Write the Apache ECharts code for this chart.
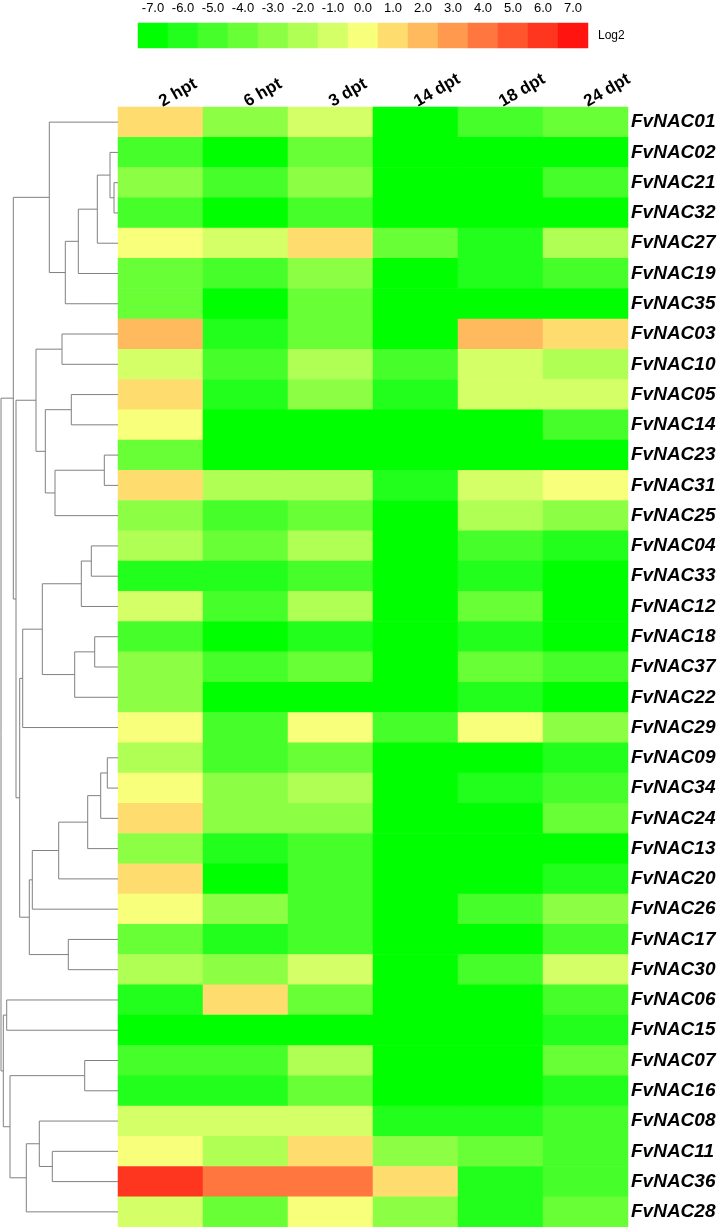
<!DOCTYPE html>
<html><head><meta charset="utf-8">
<script src="https://cdn.jsdelivr.net/npm/echarts@6/dist/echarts.min.js"></script>
<style>html,body{margin:0;padding:0;background:#fff}#c{width:720px;height:1227px}</style>
</head><body><div id="c"></div>
<script>
const genes = ['FvNAC01','FvNAC02','FvNAC21','FvNAC32','FvNAC27','FvNAC19','FvNAC35','FvNAC03','FvNAC10','FvNAC05',
  'FvNAC14','FvNAC23','FvNAC31','FvNAC25','FvNAC04','FvNAC33','FvNAC12','FvNAC18','FvNAC37','FvNAC22',
  'FvNAC29','FvNAC09','FvNAC34','FvNAC24','FvNAC13','FvNAC20','FvNAC26','FvNAC17','FvNAC30','FvNAC06',
  'FvNAC15','FvNAC07','FvNAC16','FvNAC08','FvNAC11','FvNAC36','FvNAC28'];
const timepoints = ['2 hpt','6 hpt','3 dpt','14 dpt','18 dpt','24 dpt'];
// log2 values per time point, in gene order above
const v2hpt  = [1,-5,-3,-5,0,-4,-4,2,-1,1, 0,-4,1,-3,-2,-6,-1,-5,-3,-3, 0,-2,0,1,-3,1,0,-4,-2,-6, -7,-5,-6,-1,0,6,-1];
const v6hpt  = [-3,-7,-5,-7,-1,-5,-7,-6,-5,-6, -7,-7,-2,-5,-4,-6,-5,-7,-5,-7, -5,-5,-3,-3,-6,-7,-3,-6,-3,1, -7,-5,-6,-1,-2,4,-4];
const v3dpt  = [-1,-4,-3,-5,1,-3,-4,-4,-2,-3, -7,-7,-2,-4,-2,-5,-2,-6,-4,-7, 0,-4,-2,-3,-5,-5,-5,-5,-1,-4, -7,-2,-4,-1,1,4,0];
const v14dpt = [-7,-7,-7,-7,-4,-7,-7,-7,-5,-6, -7,-7,-6,-7,-7,-7,-7,-7,-7,-7, -5,-7,-7,-7,-7,-7,-7,-7,-7,-7, -7,-7,-7,-6,-3,1,-3];
const v18dpt = [-5,-7,-7,-7,-6,-6,-7,2,-1,-1, -7,-7,-1,-2,-5,-6,-4,-6,-4,-6, 0,-7,-6,-7,-7,-7,-5,-7,-5,-7, -7,-7,-7,-6,-4,-6,-6];
const v24dpt = [-4,-7,-5,-7,-2,-5,-7,1,-2,-1, -5,-7,0,-3,-6,-7,-7,-7,-5,-7, -3,-6,-5,-4,-7,-6,-3,-5,-1,-5, -6,-4,-6,-5,-5,-5,-4];
const columns = [v2hpt, v6hpt, v3dpt, v14dpt, v18dpt, v24dpt];

const legendTicks  = ['-7.0','-6.0','-5.0','-4.0','-3.0','-2.0','-1.0','0.0','1.0','2.0','3.0','4.0','5.0','6.0','7.0'];
const legendLevels = [-7,-6,-5,-4,-3,-2,-1,0,1,2,3,4,5,6,7];
const levelColors  = ['#00FF00','#22FF1C','#46FF2A','#69FF37','#8CFF45','#B0FF55','#D4FF66','#F8FF7A',
  '#FFDC6E','#FFBA5E','#FF994E','#FF773E','#FF562E','#FF361F','#FF140F'];

// dendrogram: [mergeHeight, left, right]; leaves are gene names
const dendrogram =
[117,
  [104.7,
    [68.7, 'FvNAC01', [52.7, [39.7, [20.7, [8, 'FvNAC02', [4, 'FvNAC21', 'FvNAC32']], 'FvNAC27'], 'FvNAC19'], 'FvNAC35']],
    [102,
      [82, [56, 'FvNAC03', 'FvNAC10'], [72.7, [46.7, 'FvNAC05', 'FvNAC14'], [63, [13.7, 'FvNAC23', 'FvNAC31'], 'FvNAC25']]],
      [98.3,
        [95.3, [75.7, [36.7, [26.7, 'FvNAC04', 'FvNAC33'], 'FvNAC12'], [43.3, [23.3, 'FvNAC18', 'FvNAC37'], 'FvNAC22']], 'FvNAC29'],
        [88.7, [85.7, [59.3, [30.3, [17.3, [10.7, 'FvNAC09', 'FvNAC34'], 'FvNAC24'], 'FvNAC13'], 'FvNAC20'], 'FvNAC26'], [49.7, 'FvNAC17', 'FvNAC30']]
      ]
    ]
  ],
  [114.7,
    [111.3, 'FvNAC06', 'FvNAC15'],
    [108, [33.3, 'FvNAC07', 'FvNAC16'], [91.7, [78.7, 'FvNAC08', [65.7, 'FvNAC11', 'FvNAC36']], 'FvNAC28']]
  ]
];

// build data for library
const heatData = [];
columns.forEach((col, ci) => col.forEach((v, ri) => heatData.push([ci, ri, v])));
const legendData = legendLevels.map((v, i) => [i, 0, v]);
const leafIndex = {}; genes.forEach((g, i) => leafIndex[g] = i);
const segs = [];
function walk(node) {
  if (typeof node === 'string') return { h: 0, y: leafIndex[node] };
  const a = walk(node[1]), b = walk(node[2]);
  segs.push([a.h, a.y, node[0], b.h, b.y]);
  return { h: node[0], y: (a.y + b.y) / 2 };
}
walk(dendrogram);

const FONT = '"Liberation Sans", Arial, sans-serif';
const chart = echarts.init(document.getElementById('c'), null, { renderer: 'canvas' });
chart.setOption({
  animation: false,
  backgroundColor: '#ffffff',
  grid: [
    { left: 118, top: 107, width: 510, height: 1120 },
    { left: 138, top: 23, width: 450, height: 25 },
    { left: 0, top: 107, width: 118, height: 1120 }
  ],
  xAxis: [
    { type: 'category', gridIndex: 0, data: timepoints, position: 'top',
      axisLine: { show: false }, axisTick: { show: false }, splitLine: { show: false },
      axisLabel: { rotate: -30, margin: 4, fontSize: 17, fontWeight: 'bold', color: '#000', fontFamily: FONT } },
    { type: 'category', gridIndex: 1, data: legendTicks, position: 'top',
      axisLine: { show: false }, axisTick: { show: false },
      axisLabel: { margin: 8, fontSize: 13, color: '#000', fontFamily: FONT } },
    { type: 'value', gridIndex: 2, min: 0, max: 118, inverse: true, show: false }
  ],
  yAxis: [
    { type: 'category', gridIndex: 0, data: genes, inverse: true, position: 'right',
      axisLine: { show: false }, axisTick: { show: false },
      axisLabel: { margin: 3, fontSize: 19, fontWeight: 'bold', fontStyle: 'italic', color: '#000', fontFamily: FONT } },
    { type: 'category', gridIndex: 1, data: ['Log2'], position: 'right',
      axisLine: { show: false }, axisTick: { show: false },
      axisLabel: { margin: 10, fontSize: 12, color: '#000', fontFamily: FONT } },
    { type: 'value', gridIndex: 2, min: -0.5, max: 36.5, inverse: true, show: false }
  ],
  visualMap: {
    type: 'piecewise', show: false, seriesIndex: [0, 1], dimension: 2,
    pieces: legendLevels.map((v, i) => ({ min: v - 0.5, max: v + 0.5, color: levelColors[i] }))
  },
  series: [
    { type: 'heatmap', xAxisIndex: 0, yAxisIndex: 0, data: heatData, itemStyle: { borderWidth: 0 } },
    { type: 'heatmap', xAxisIndex: 1, yAxisIndex: 1, data: legendData, itemStyle: { borderWidth: 0 } },
    { type: 'custom', xAxisIndex: 2, yAxisIndex: 2, data: segs, clip: false,
      encode: { x: [0, 2, 3], y: [1, 4] },
      renderItem: function (params, api) {
        const a = api.coord([api.value(0), api.value(1)]);
        const n1 = api.coord([api.value(2), api.value(1)]);
        const n2 = api.coord([api.value(2), api.value(4)]);
        const b = api.coord([api.value(3), api.value(4)]);
        return { type: 'polyline', shape: { points: [a, n1, n2, b] },
          style: { stroke: '#808080', lineWidth: 1, fill: null } };
      } }
  ]
});
</script>
</body></html>
